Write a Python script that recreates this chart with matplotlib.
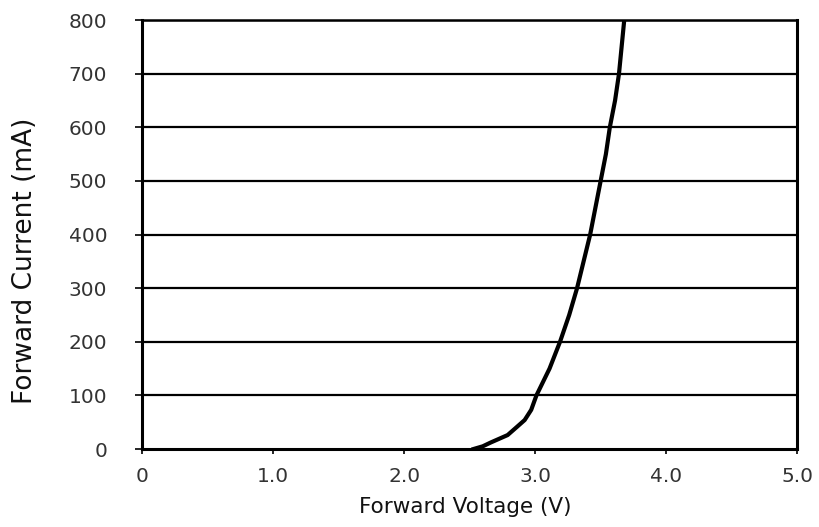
import matplotlib
matplotlib.use("Agg")
import matplotlib.pyplot as plt

# forward voltage (V) vs forward current (mA)
voltage = [2.53, 2.60, 2.66, 2.79, 2.86, 2.92, 2.97, 3.01, 3.06, 3.11, 3.15, 3.19, 3.26,
           3.32, 3.37, 3.42, 3.46, 3.50, 3.54, 3.57, 3.61, 3.64, 3.66, 3.68]
current = [0, 5, 12, 26, 41, 54, 73, 100, 125, 150, 175, 200, 250,
           300, 350, 400, 450, 500, 550, 600, 650, 700, 750, 800]

x_ticks = [0, 1, 2, 3, 4, 5]
x_labels = ["0", "1.0", "2.0", "3.0", "4.0", "5.0"]
y_ticks = [0, 100, 200, 300, 400, 500, 600, 700, 800]

fig = plt.figure(figsize=(8.19, 5.27), dpi=100)
ax = fig.add_axes([0.1734, 0.148, 0.80, 0.814])

for y in y_ticks[1:]:
    ax.axhline(y, color="black", lw=1.6, zorder=1)

ax.plot(voltage, current, color="black", lw=3.0, solid_joinstyle="round", zorder=3)

ax.set_xlim(0, 5)
ax.set_ylim(0, 800)
ax.set_xticks(x_ticks)
ax.set_xticklabels(x_labels)
ax.set_yticks(y_ticks)

for side in ["left", "bottom", "right"]:
    ax.spines[side].set_linewidth(2.2)
ax.spines["top"].set_linewidth(1.8)
ax.tick_params(axis="both", direction="out", colors="black", labelcolor="#333333",
               labelsize=14.5, width=1.2)
ax.tick_params(axis="y", length=5, pad=20)
ax.tick_params(axis="x", length=3.6, pad=9)

# axis titles placed by hand to match the original layout
fig.text(465 / 819, 1 - 507 / 527, "Forward Voltage (V)", fontsize=15.5,
         color="#111111", ha="center", va="center")
fig.text(25 / 819, 1 - 261 / 527, "Forward Current (mA)", fontsize=19,
         color="#111111", ha="center", va="center", rotation=90)

fig.savefig("out.png", dpi=100)
